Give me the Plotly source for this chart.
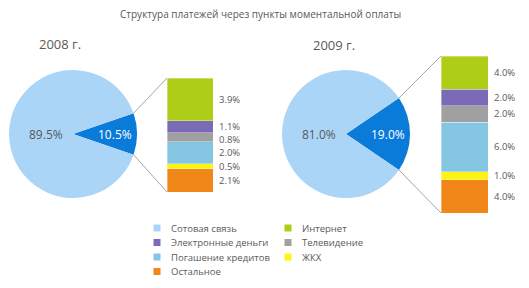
import numpy as np
import plotly.graph_objects as go

W, H = 529, 288
FONT = "Open Sans"
GRAY_TXT = "#595959"

# ---------------- data ----------------
title = "Структура платежей через пункты моментальной оплаты"
years = ["2008 г.", "2009 г."]
pie_labels = ["Прочие платежи", "Сотовая связь"]          # first = exploded part
pie_2008 = [10.5, 89.5]
pie_2009 = [19.0, 81.0]
bar_cats = ["Интернет", "Электронные деньги", "Телевидение",
            "Погашение кредитов", "ЖКХ", "Остальное"]        # top -> bottom
bar_2008 = [3.9, 1.1, 0.8, 2.0, 0.5, 2.1]
bar_2009 = [4.0, 2.0, 2.0, 6.0, 1.0, 4.0]
legend_order = ["Сотовая связь", "Интернет", "Электронные деньги", "Телевидение",
                "Погашение кредитов", "ЖКХ", "Остальное"]

colors = {
    "Сотовая связь": "#abd5f7",
    "Прочие платежи": "#0a7bd8",
    "Интернет": "#adcd16",
    "Электронные деньги": "#7b6ab5",
    "Телевидение": "#a0a0a0",
    "Погашение кредитов": "#84c6e2",
    "ЖКХ": "#fff314",
    "Остальное": "#f18718",
}

# ---------------- layout geometry (pixels) ----------------
panels = [
    dict(pie=pie_2008, bars=bar_2008, year=years[0], cx=73, cy=134, r=64,
         bx0=167, bx1=213, by0=78, by1=192, yx=60, yy=44),
    dict(pie=pie_2009, bars=bar_2009, year=years[1], cx=346, cy=134, r=64,
         bx0=441, bx1=488, by0=56, by1=213, yx=334, yy=45),
]
label_frac = [0.65, 0.42]
label_col = ["white", GRAY_TXT]
MIN_GAP_PX = 12.5

fig = go.Figure()
shapes = []
annotations = []
layout_axes = {}

# overlay pixel axis
layout_axes["xaxis"] = dict(domain=[0, 1], range=[0, W], visible=False, fixedrange=True)
layout_axes["yaxis"] = dict(domain=[0, 1], range=[H, 0], visible=False, fixedrange=True)

for k, p in enumerate(panels):
    vals = p["pie"]
    total = sum(vals)
    share = vals[0] / total
    rotation = 90 - 360 * share / 2
    fig.add_trace(go.Pie(
        labels=pie_labels, values=vals, sort=False, direction="clockwise",
        rotation=rotation, textinfo="none", hoverinfo="label+percent",
        marker=dict(colors=[colors[l] for l in pie_labels], line=dict(width=0)),
        domain=dict(x=[(p["cx"] - p["r"]) / W, (p["cx"] + p["r"]) / W],
                    y=[1 - (p["cy"] + p["r"]) / H, 1 - (p["cy"] - p["r"]) / H]),
        showlegend=False,
    ))
    # slice labels
    start = rotation
    for i, v in enumerate(vals):
        mid = np.radians(start + 360 * v / total / 2)
        start += 360 * v / total
        rr = p["r"] * label_frac[i]
        annotations.append(dict(
            x=p["cx"] + rr * np.sin(mid), y=p["cy"] - rr * np.cos(mid),
            xref="x", yref="y", text=f"{v:.1f}%", showarrow=False,
            font=dict(family=FONT, size=12, color=label_col[i])))

    # stacked bar
    ax = k + 2
    xa, ya = f"x{ax}", f"y{ax}"
    bsum = sum(p["bars"])
    layout_axes[f"xaxis{ax}"] = dict(domain=[p["bx0"] / W, p["bx1"] / W], range=[-0.5, 0.5],
                                     visible=False, fixedrange=True, anchor=ya)
    layout_axes[f"yaxis{ax}"] = dict(domain=[1 - p["by1"] / H, 1 - p["by0"] / H], range=[0, bsum],
                                     visible=False, fixedrange=True, anchor=xa)
    for cat, v in reversed(list(zip(bar_cats, p["bars"]))):
        fig.add_trace(go.Bar(x=[0], y=[v], width=[1], name=cat, xaxis=xa, yaxis=ya,
                             marker=dict(color=colors[cat],
                                         line=dict(width=0.6, color="rgba(255,255,255,0.6)")),
                             showlegend=False))
    # value labels at segment middles (top -> bottom), nudged apart if too close
    top_cum = np.cumsum([0] + p["bars"][:-1])
    mids = [bsum - (c + v / 2) for c, v in zip(top_cum, p["bars"])]
    gap = MIN_GAP_PX * bsum / (p["by1"] - p["by0"])
    for i in range(1, len(mids)):
        if mids[i - 1] - mids[i] < gap:
            mids[i] = mids[i - 1] - gap
    for v, m in zip(p["bars"], mids):
        annotations.append(dict(x=0.5, y=m, xref=xa, yref=ya, text=f"{v:.1f}%",
                                showarrow=False, xanchor="left", xshift=3.5,
                                font=dict(family=FONT, size=9.5, color=GRAY_TXT)))

    # connector lines from wedge edges to bar corners
    half = np.radians(360 * share / 2)
    ex = p["cx"] + p["r"] * np.cos(half)
    ey_top = p["cy"] - p["r"] * np.sin(half)
    ey_bot = p["cy"] + p["r"] * np.sin(half)
    for (y0, y1) in [(ey_top, p["by0"]), (ey_bot, p["by1"])]:
        shapes.append(dict(type="line", xref="x", yref="y", x0=ex, y0=y0, x1=p["bx0"], y1=y1,
                           line=dict(color="#a6a6a6", width=1)))

    annotations.append(dict(x=p["yx"], y=p["yy"], xref="x", yref="y", text=p["year"],
                            showarrow=False, font=dict(family=FONT, size=13, color=GRAY_TXT)))

# ---------------- legend (2 columns, row-major) ----------------
col_x = [157, 288]
row_y0, row_dy = 228, 14.5
lx, ly, lc = [], [], []
for i, cat in enumerate(legend_order):
    r, c = divmod(i, 2)
    lx.append(col_x[c])
    ly.append(row_y0 + r * row_dy)
    lc.append(colors[cat])
    annotations.append(dict(x=col_x[c] + 12, y=row_y0 + r * row_dy, xref="x", yref="y",
                            text=cat, showarrow=False, xanchor="left",
                            font=dict(family=FONT, size=9.5, color=GRAY_TXT)))
fig.add_trace(go.Scatter(x=lx, y=ly, mode="markers", xaxis="x", yaxis="y",
                         marker=dict(symbol="square", size=7, color=lc),
                         showlegend=False, hoverinfo="skip"))

annotations.append(dict(x=260, y=14, xref="x", yref="y", text=title, showarrow=False,
                        font=dict(family=FONT, size=10, color=GRAY_TXT)))

fig.update_layout(
    width=W, height=H, margin=dict(l=0, r=0, t=0, b=0),
    paper_bgcolor="white", plot_bgcolor="rgba(0,0,0,0)",
    barmode="stack", showlegend=False,
    shapes=shapes, annotations=annotations,
    **layout_axes,
)
fig.write_html("out.html")
